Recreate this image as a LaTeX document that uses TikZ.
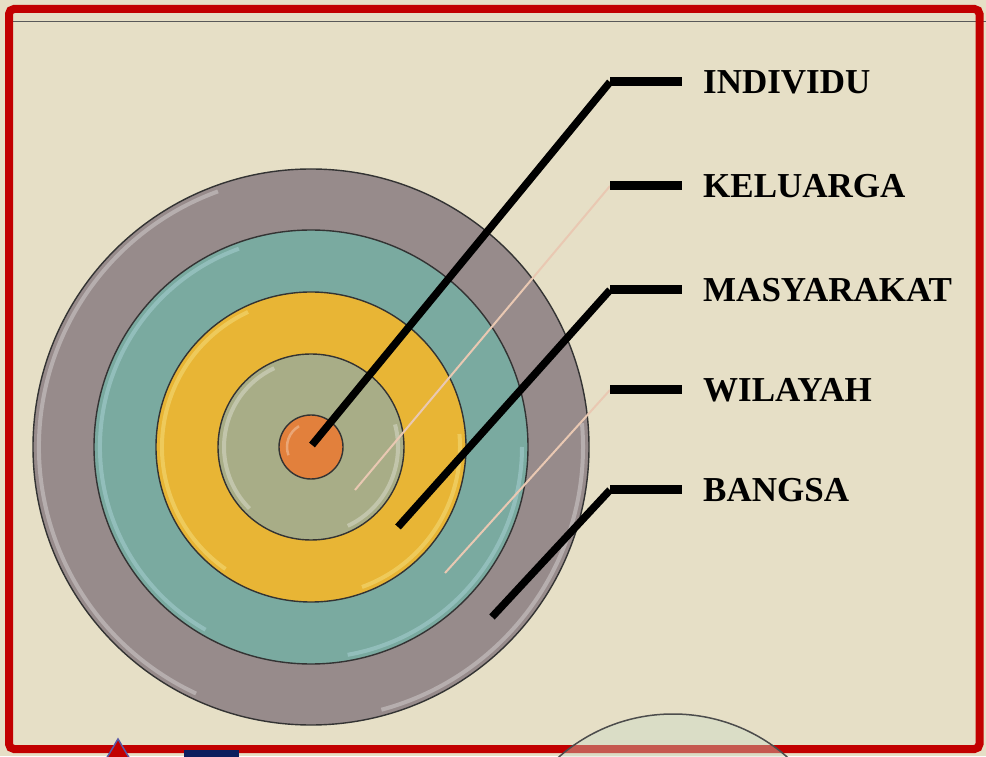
\documentclass[tikz,border=0pt]{standalone}
\usepackage{fontspec}
\setmainfont{Liberation Serif}

\definecolor{paper}{HTML}{E6DFC6}
\definecolor{frame}{HTML}{C20000}
\definecolor{ringgray}{HTML}{978B8B}
\definecolor{ringteal}{HTML}{7AAAA0}
\definecolor{ringyellow}{HTML}{E8B535}
\definecolor{ringsage}{HTML}{A8AD87}
\definecolor{ringorange}{HTML}{E2803C}
\definecolor{peach}{HTML}{E9C8B2}
\definecolor{navy}{HTML}{0B1F5E}
\definecolor{mint}{HTML}{CADCC6}

\begin{document}
\begin{tikzpicture}[x=1pt, y=1pt,
    ring/.style={draw=black!80, line width=1.4},
    shine/.style={white, opacity=.3, line width=4},
    lead/.style={black, line width=7.5, line join=round},
    pale/.style={peach, line width=2},
    bar/.style={black, line width=9},
    lbl/.style={anchor=west, inner sep=0pt, font=\fontsize{35}{40}\selectfont\bfseries}]
    \clip (0,0) rectangle (986,756);
    \fill[paper] (0,0) rectangle (986,756);
    \draw[black!65, line width=1.5] (13,734.5) -- (986,734.5);

    % concentric rings
    \coordinate (c) at (311,309);
    \draw[ring, fill=ringgray] (c) circle (278);
    \draw[shine] (c) ++(110:272) arc (110:245:272);
    \draw[shine] (c) ++(-75:272) arc (-75:5:272);
    \draw[ring, fill=ringteal] (c) circle (217);
    \draw[shine, cyan!20] (c) ++(110:211) arc (110:240:211);
    \draw[shine, cyan!20] (c) ++(-80:211) arc (-80:0:211);
    \draw[ring, fill=ringyellow] (c) circle (155);
    \draw[shine, yellow!30] (c) ++(115:149) arc (115:235:149);
    \draw[shine, yellow!30] (c) ++(-70:149) arc (-70:5:149);
    \draw[ring, fill=ringsage] (c) circle (93);
    \draw[shine] (c) ++(115:87) arc (115:225:87);
    \draw[shine] (c) ++(-65:87) arc (-65:15:87);
    \draw[ring, fill=ringorange] (c) circle (32);
    \draw[shine, line width=2.5] (c) ++(120:24) arc (120:200:24);

    % labels
    \node[lbl] (individu) at (703,674) {INDIVIDU};
    \node[lbl] (keluarga) at (703,570) {KELUARGA};
    \node[lbl] (masyarakat) at (703,466) {MASYARAKAT};
    \node[lbl] (wilayah) at (703,366) {WILAYAH};
    \node[lbl] (bangsa) at (703,266) {BANGSA};

    \coordinate (pIndividu) at (312,311);
    \coordinate (pKeluarga) at (355,266);
    \coordinate (pMasyarakat) at (398,229);
    \coordinate (pWilayah) at (445,183);
    \coordinate (pBangsa) at (492,139);

    \coordinate (kIndividu) at (610,674);
    \coordinate (kKeluarga) at (610,570);
    \coordinate (kMasyarakat) at (610,466);
    \coordinate (kWilayah) at (610,366);
    \coordinate (kBangsa) at (610,266);

    % leaders
    \draw[pale] (pKeluarga) -- (kKeluarga);
    \draw[pale] (pWilayah) -- (kWilayah);
    \draw[lead] (pIndividu) -- (kIndividu);
    \draw[lead] (pMasyarakat) -- (kMasyarakat);
    \draw[lead] (pBangsa) -- (kBangsa);
    \draw[bar] (kIndividu) -- ([xshift=-21pt]individu.west);
    \draw[bar] (kKeluarga) -- ([xshift=-21pt]keluarga.west);
    \draw[bar] (kMasyarakat) -- ([xshift=-21pt]masyarakat.west);
    \draw[bar] (kWilayah) -- ([xshift=-21pt]wilayah.west);
    \draw[bar] (kBangsa) -- ([xshift=-21pt]bangsa.west);

    % frame and bits below it
    \draw[frame, line width=8, rounded corners=5] (9,7) rectangle (979.5,747);
    \draw[fill=mint, fill opacity=.4, draw=black!70, line width=1.5] (673,-131) circle (173);
    \draw[fill=frame, draw=blue!30!gray, line width=1.5] (118,17) -- (140,-20) -- (96,-20) -- cycle;
    \fill[navy] (184,-5) rectangle (239,6);
\end{tikzpicture}
\end{document}
